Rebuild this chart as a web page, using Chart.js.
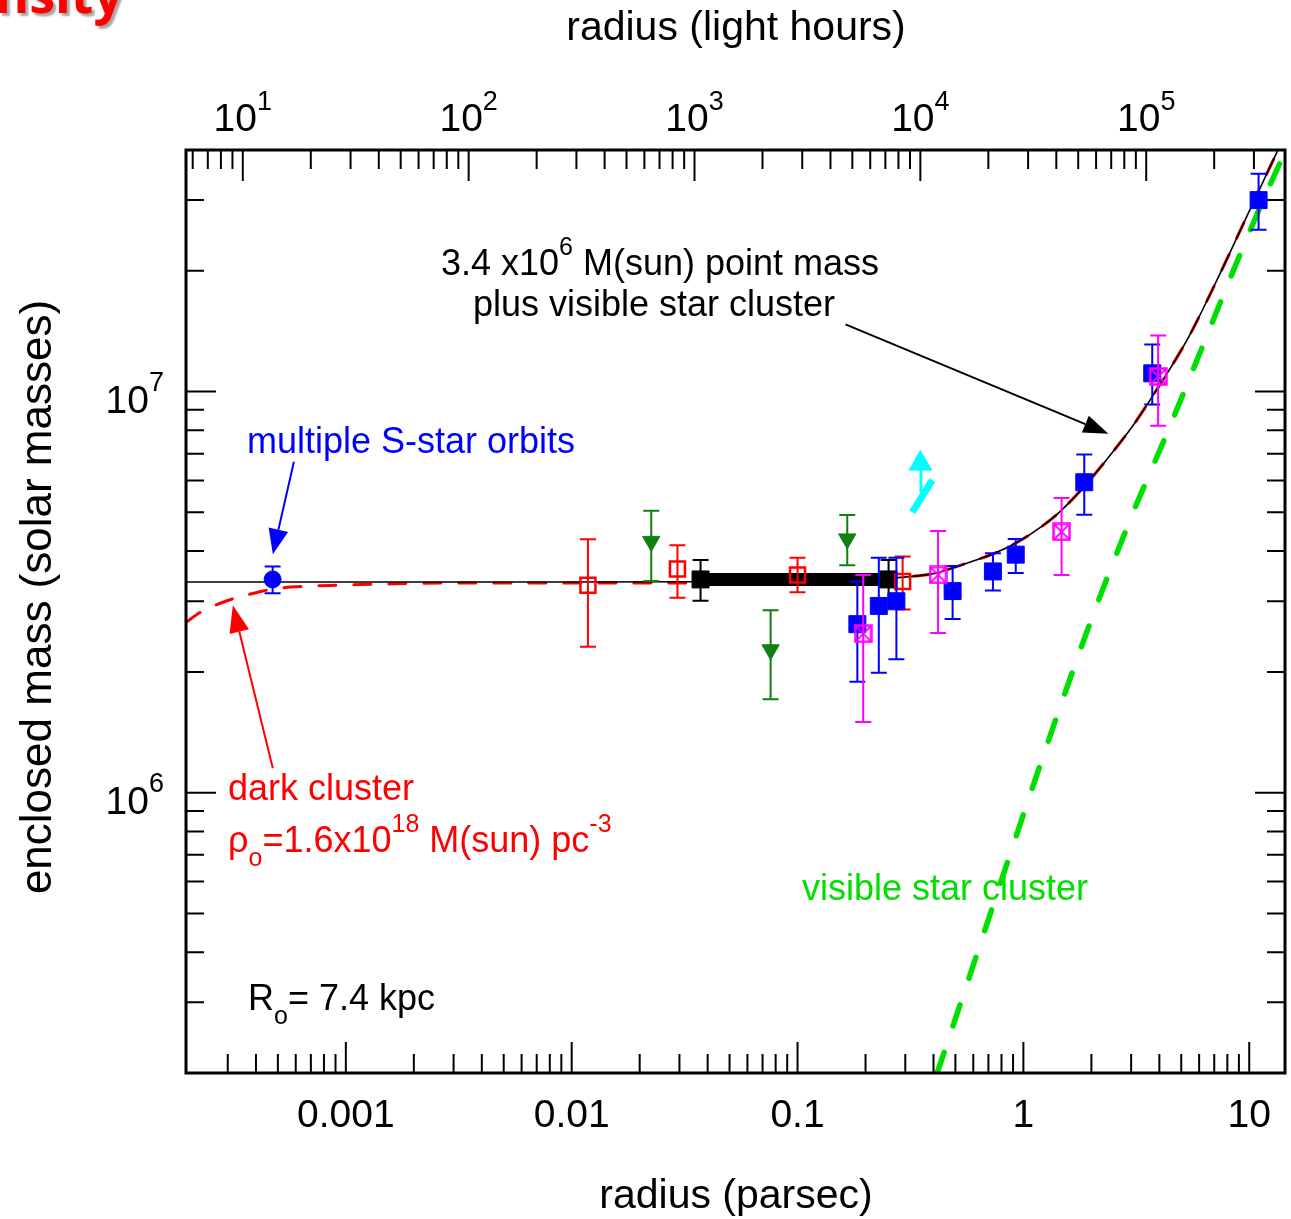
<!DOCTYPE html>
<html>
<head>
<meta charset="utf-8">
<script src="https://cdn.jsdelivr.net/npm/chart.js@4.4.0/dist/chart.umd.min.js"></script>
<style>
  body { margin: 0; background: #fff; }
  canvas { display: block; }
</style>
</head>
<body>
<canvas id="massChart" width="1291" height="1219"></canvas>
<script>
// radius in parsec, mass in solar masses
var LH_PER_PC = 28591; // light hours in one parsec

var xMin = 1.96e-4, xMax = 14.4;
var yMin = 2.0e5, yMax = 4.0e7;

var bottomTicks = [0.001, 0.01, 0.1, 1, 10];
var bottomTickLabels = ['0.001', '0.01', '0.1', '1', '10'];
var topTickExps = [1, 2, 3, 4, 5];   // light hours, 10^n
var leftTickExps = [6, 7];           // solar masses, 10^n

// model: 3.4e6 point mass + visible cluster (black solid)
var blackCurveR = [1.96e-4, 0.01, 0.1, 0.2, 0.286, 0.416, 0.49, 0.736, 0.94, 1.22, 1.46, 1.86, 2.33, 3.07, 3.76, 4.80, 5.48, 7.21, 10.1, 13.4, 14.4];
var blackCurveM = [3.35e6, 3.35e6, 3.36e6, 3.39e6, 3.44e6, 3.53e6, 3.64e6, 3.94e6, 4.21e6, 4.63e6, 5.03e6, 5.80e6, 6.75e6, 8.25e6, 9.80e6, 1.22e7, 1.39e7, 1.90e7, 2.85e7, 4.0e7, 4.36e7];

// model: dark cluster + visible cluster (red dashed)
var redCurveR = [1.96e-4, 2.28e-4, 2.80e-4, 3.33e-4, 4.0e-4, 4.8e-4, 6.8e-4, 9.5e-4, 1.43e-3, 2.8e-3, 0.01, 0.1, 0.2, 0.286, 0.416, 0.49, 0.736, 0.94, 1.22, 1.46, 1.86, 2.33, 3.07, 3.76, 4.80, 5.48, 7.21, 10.1, 13.4, 14.4];
var redCurveM = [2.66e6, 2.82e6, 2.97e6, 3.07e6, 3.15e6, 3.22e6, 3.27e6, 3.29e6, 3.31e6, 3.33e6, 3.33e6, 3.34e6, 3.38e6, 3.44e6, 3.53e6, 3.64e6, 3.94e6, 4.21e6, 4.63e6, 5.03e6, 5.80e6, 6.75e6, 8.25e6, 9.80e6, 1.22e7, 1.39e7, 1.90e7, 2.85e7, 4.0e7, 4.36e7];

// visible star cluster (green dashed)
var greenCurveR = [0.415, 1.807, 3.01, 4.12, 13.7, 15.0];
var greenCurveM = [2.0e5, 2.31e6, 4.88e6, 7.38e6, 3.72e7, 4.1e7];

// multiple S-star orbits
var sStarR = [4.74e-4];
var sStarM = [3.40e6];
var sStarLo = [3.14e6];
var sStarHi = [3.66e6];

// red open squares
var redSqR = [0.0118, 0.0294, 0.100, 0.292];
var redSqM = [3.29e6, 3.61e6, 3.49e6, 3.36e6];
var redSqLo = [2.31e6, 3.06e6, 3.16e6, 2.86e6];
var redSqHi = [4.28e6, 4.14e6, 3.85e6, 3.88e6];

// green triangles
var greenTriR = [0.0225, 0.0760, 0.166];
var greenTriM = [4.23e6, 2.27e6, 4.29e6];
var greenTriLo = [3.37e6, 1.71e6, 3.69e6];
var greenTriHi = [5.04e6, 2.85e6, 4.92e6];

// black squares and the range between them
var blackSqR = [0.0372, 0.253];
var blackSqM = [3.40e6, 3.40e6];
var blackSqLo = [3.01e6, 3.01e6];
var blackSqHi = [3.80e6, 3.80e6];

// blue filled squares
var blueSqR = [0.184, 0.229, 0.274, 0.486, 0.733, 0.925, 1.86, 3.72, 11.0];
var blueSqM = [2.63e6, 2.92e6, 3.00e6, 3.18e6, 3.56e6, 3.92e6, 5.94e6, 1.11e7, 3.0e7];
var blueSqLo = [1.89e6, 1.99e6, 2.15e6, 2.71e6, 3.19e6, 3.53e6, 4.93e6, 9.28e6, 2.53e7];
var blueSqHi = [3.36e6, 3.85e6, 3.85e6, 3.67e6, 3.95e6, 4.29e6, 6.97e6, 1.31e7, 3.49e7];

// magenta crossed squares
var magSqR = [0.1953, 0.419, 1.476, 3.95];
var magSqM = [2.49e6, 3.49e6, 4.47e6, 1.09e7];
var magSqLo = [1.50e6, 2.50e6, 3.49e6, 8.21e6];
var magSqHi = [3.49e6, 4.49e6, 5.43e6, 1.38e7];

// cyan lower limit
var cyanBarR = [0.322, 0.395];
var cyanBarM = [5.00e6, 6.01e6];
var cyanStemR = [0.352, 0.352];
var cyanStemM = [5.60e6, 6.38e6];
var cyanHeadR = [0.350];
var cyanHeadM = [6.61e6];

function pts(r, m, lo, hi) {
    return r.map(function (v, i) {
        var p = { x: v, y: m[i] };
        if (lo) { p.lo = lo[i]; p.hi = hi[i]; }
        return p;
    });
}

// crossed square marker
var crossBox = document.createElement('canvas');
crossBox.width = 19; crossBox.height = 19;
(function () {
    var c = crossBox.getContext('2d');
    c.strokeStyle = '#ff00ff';
    c.lineWidth = 2.5;
    c.strokeRect(1.5, 1.5, 16, 16);
    c.lineWidth = 1.8;
    c.beginPath();
    c.moveTo(2, 2); c.lineTo(17, 17);
    c.moveTo(17, 2); c.lineTo(2, 17);
    c.stroke();
})();

var FONT = '"Liberation Sans", Arial, sans-serif';

function richText(ctx, parts, x, y, size, align, color, supRatio) {
    var small = Math.round(size * (supRatio || 0.7));
    var w = 0;
    parts.forEach(function (p) {
        ctx.font = (p[1] ? small : size) + 'px ' + FONT;
        w += ctx.measureText(p[0]).width;
    });
    var cx = align === 'center' ? x - w / 2 : (align === 'right' ? x - w : x);
    ctx.fillStyle = color;
    ctx.textAlign = 'left';
    ctx.textBaseline = 'alphabetic';
    parts.forEach(function (p) {
        ctx.font = (p[1] ? small : size) + 'px ' + FONT;
        var dy = p[1] === 'sup' ? -size * 0.55 : (p[1] === 'sub' ? size * 0.38 : 0);
        ctx.fillText(p[0], cx, y + dy);
        cx += ctx.measureText(p[0]).width;
    });
}

function logTicks(min, max) {
    var out = [];
    for (var d = Math.floor(Math.log10(min)); d <= Math.ceil(Math.log10(max)); d++) {
        for (var m = 1; m <= 9; m++) {
            var v = m * Math.pow(10, d);
            if (v > min * 1.03 && v < max * 0.97) out.push({ v: v, major: m === 1 });
        }
    }
    return out;
}

function arrow(ctx, x0, y0, x1, y1, color, len, half) {
    var a = Math.atan2(y1 - y0, x1 - x0);
    var bx = x1 - len * Math.cos(a), by = y1 - len * Math.sin(a);
    ctx.strokeStyle = color;
    ctx.fillStyle = color;
    ctx.lineWidth = 2;
    ctx.beginPath(); ctx.moveTo(x0, y0); ctx.lineTo(bx, by); ctx.stroke();
    ctx.beginPath();
    ctx.moveTo(x1, y1);
    ctx.lineTo(bx + half * Math.sin(a), by - half * Math.cos(a));
    ctx.lineTo(bx - half * Math.sin(a), by + half * Math.cos(a));
    ctx.closePath();
    ctx.fill();
}

var decor = {
    id: 'decor',
    beforeDatasetDraw: function (chart, args) {
        var ds = chart.data.datasets[args.index];
        if (!ds.errColor) return;
        var ctx = chart.ctx, y = chart.scales.y;
        ctx.save();
        ctx.strokeStyle = ds.errColor;
        ctx.lineWidth = 2;
        args.meta.data.forEach(function (el, i) {
            var d = ds.data[i];
            var yl = y.getPixelForValue(d.lo), yh = y.getPixelForValue(d.hi);
            ctx.beginPath();
            ctx.moveTo(el.x, yl); ctx.lineTo(el.x, yh);
            ctx.moveTo(el.x - 8, yl); ctx.lineTo(el.x + 8, yl);
            ctx.moveTo(el.x - 8, yh); ctx.lineTo(el.x + 8, yh);
            ctx.stroke();
        });
        ctx.restore();
    },
    afterDatasetsDraw: function (chart) {
        var ctx = chart.ctx, a = chart.chartArea;
        var x = chart.scales.x, y = chart.scales.y;
        ctx.save();

        // ticks, all pointing inward
        ctx.strokeStyle = '#000';
        ctx.lineWidth = 2;
        ctx.beginPath();
        logTicks(xMin, xMax).forEach(function (t) {
            var px = x.getPixelForValue(t.v), len = t.major ? 31 : 19;
            ctx.moveTo(px, a.bottom); ctx.lineTo(px, a.bottom - len);
        });
        logTicks(xMin * LH_PER_PC, xMax * LH_PER_PC).forEach(function (t) {
            var px = x.getPixelForValue(t.v / LH_PER_PC), len = t.major ? 31 : 19;
            ctx.moveTo(px, a.top); ctx.lineTo(px, a.top + len);
        });
        logTicks(yMin, yMax).forEach(function (t) {
            var py = y.getPixelForValue(t.v), len = t.major ? 30 : 18;
            ctx.moveTo(a.left, py); ctx.lineTo(a.left + len, py);
            ctx.moveTo(a.right, py); ctx.lineTo(a.right - len, py);
        });
        ctx.stroke();

        // frame
        ctx.lineWidth = 3;
        ctx.strokeRect(a.left, a.top, a.right - a.left, a.bottom - a.top);

        // tick labels
        ctx.fillStyle = '#000';
        ctx.font = '39px ' + FONT;
        ctx.textAlign = 'center';
        ctx.textBaseline = 'alphabetic';
        bottomTicks.forEach(function (v, i) {
            ctx.fillText(bottomTickLabels[i], x.getPixelForValue(v), 1127);
        });
        topTickExps.forEach(function (e) {
            var px = x.getPixelForValue(Math.pow(10, e) / LH_PER_PC);
            richText(ctx, [['10'], [String(e), 'sup']], px, 131, 39, 'center', '#000', 0.68);
        });
        leftTickExps.forEach(function (e) {
            var py = y.getPixelForValue(Math.pow(10, e));
            richText(ctx, [['10'], [String(e), 'sup']], 164, py + 21, 39, 'right', '#000', 0.68);
        });

        // axis titles
        ctx.fillStyle = '#000';
        ctx.font = '41px ' + FONT;
        ctx.textAlign = 'center';
        ctx.fillText('radius (light hours)', 736, 40);
        ctx.fillText('radius (parsec)', 736, 1208);
        ctx.save();
        ctx.translate(51, 597);
        ctx.rotate(-Math.PI / 2);
        ctx.font = '44px ' + FONT;
        ctx.fillText('enclosed mass (solar masses)', 0, 0);
        ctx.restore();

        // annotations
        richText(ctx, [['3.4 x10'], ['6', 'sup'], [' M(sun) point mass']], 660, 275, 36, 'center', '#000');
        richText(ctx, [['plus visible star cluster']], 654, 316, 36, 'center', '#000');
        richText(ctx, [['multiple S-star orbits']], 247, 453, 36, 'left', '#0000ff');
        richText(ctx, [['dark cluster']], 228, 800, 36, 'left', '#ff0000');
        richText(ctx, [['\u03c1'], ['o', 'sub'], ['=1.6x10'], ['18', 'sup'], [' M(sun) pc'], ['-3', 'sup']], 228, 852, 36, 'left', '#ff0000');
        richText(ctx, [['visible star cluster']], 802, 900, 36, 'left', '#00e000');
        richText(ctx, [['R'], ['o', 'sub'], ['= 7.4 kpc']], 248, 1010, 36, 'left', '#000');

        var P = function (r, m) { return [x.getPixelForValue(r), y.getPixelForValue(m)]; };
        var b0 = P(5.89e-4, 6.68e6), b1 = P(4.75e-4, 3.93e6);
        arrow(ctx, b0[0], b0[1], b1[0], b1[1], '#0000ff', 25, 10);
        var r0 = P(4.75e-4, 1.15e6), r1 = P(3.16e-4, 2.93e6);
        arrow(ctx, r0[0], r0[1], r1[0], r1[1], '#ff0000', 27, 10);
        var k0 = P(0.163, 1.47e7), k1 = P(2.38, 7.85e6);
        arrow(ctx, k0[0], k0[1], k1[0], k1[1], '#000', 25, 9);

        // slide title remnant at top-left
        ctx.font = 'bold 52px "Open Sans", sans-serif';
        ctx.textAlign = 'right';
        ctx.fillStyle = '#ff0000';
        ctx.shadowColor = 'rgba(0,0,0,0.35)';
        ctx.shadowOffsetX = 3;
        ctx.shadowOffsetY = 3;
        ctx.shadowBlur = 2;
        ctx.fillText('Density', 123, 13);
        ctx.restore();
    }
};

var lineDs = function (label, r, m, color, width, dash, order) {
    return {
        label: label, data: pts(r, m), showLine: true, borderColor: color, borderWidth: width,
        borderDash: dash, borderCapStyle: dash.length ? 'round' : 'butt', pointRadius: 0,
        cubicInterpolationMode: 'monotone', order: order
    };
};

var ctx = document.getElementById('massChart').getContext('2d');
var chart = new Chart(ctx, {
    type: 'scatter',
    data: {
        datasets: [
            lineDs('visible star cluster', greenCurveR, greenCurveM, '#00e000', 5.5, [22, 28], 20),
            lineDs('dark cluster', redCurveR, redCurveM, '#ff0000', 3, [17, 18], 19),
            lineDs('point mass', blackCurveR, blackCurveM, '#000', 1.6, [], 18),
            lineDs('range', blackSqR, blackSqM, '#000', 13, [], 17),
            {
                label: 'black', data: pts(blackSqR, blackSqM, blackSqLo, blackSqHi), errColor: '#000',
                pointStyle: 'rect', pointRadius: 12, backgroundColor: '#000', borderColor: '#000', borderWidth: 1, order: 16
            },
            {
                label: 'red', data: pts(redSqR, redSqM, redSqLo, redSqHi), errColor: '#ff0000',
                pointStyle: 'rect', pointRadius: 10.6, backgroundColor: 'rgba(0,0,0,0)', borderColor: '#ff0000', borderWidth: 2.5, order: 15
            },
            {
                label: 'green', data: pts(greenTriR, greenTriM, greenTriLo, greenTriHi), errColor: '#108010',
                pointStyle: 'triangle', rotation: 180, pointRadius: 10, backgroundColor: '#108010', borderColor: '#108010', borderWidth: 1, order: 14
            },
            {
                label: 'S-stars', data: pts(sStarR, sStarM, sStarLo, sStarHi), errColor: '#0000ff',
                pointStyle: 'circle', pointRadius: 8.5, backgroundColor: '#0000ff', borderColor: '#0000ff', borderWidth: 1, order: 13
            },
            {
                label: 'blue', data: pts(blueSqR, blueSqM, blueSqLo, blueSqHi), errColor: '#0000ff',
                pointStyle: 'rect', pointRadius: 12, backgroundColor: '#0000ff', borderColor: '#0000ff', borderWidth: 1, order: 12
            },
            {
                label: 'magenta', data: pts(magSqR, magSqM, magSqLo, magSqHi), errColor: '#ff00ff',
                pointStyle: crossBox, order: 11
            },
            lineDs('cyan bar', cyanBarR, cyanBarM, '#00ffff', 7, [], 10),
            lineDs('cyan stem', cyanStemR, cyanStemM, '#00ffff', 3, [], 10),
            {
                label: 'cyan head', data: pts(cyanHeadR, cyanHeadM), pointStyle: 'triangle', pointRadius: 13,
                backgroundColor: '#00ffff', borderColor: '#00ffff', borderWidth: 1, order: 9
            }
        ]
    },
    options: {
        responsive: false,
        animation: false,
        devicePixelRatio: 1,
        layout: { autoPadding: false, padding: { left: 186, right: 6, top: 150, bottom: 146 } },
        plugins: { legend: { display: false }, tooltip: { enabled: false } },
        scales: {
            x: { type: 'logarithmic', min: xMin, max: xMax, display: false },
            y: { type: 'logarithmic', min: yMin, max: yMax, display: false }
        }
    },
    plugins: [decor]
});
</script>
</body>
</html>
